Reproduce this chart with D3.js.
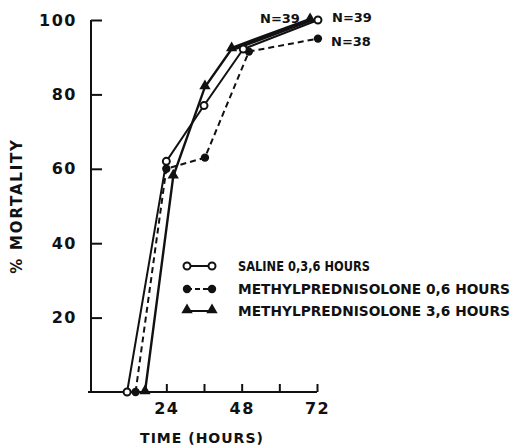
<!DOCTYPE html>
<html>
<head>
<meta charset="utf-8">
<script src="https://cdn.jsdelivr.net/npm/d3@7"></script>
<style>
  body { margin: 0; background: #fff; }
  svg { display: block; }
  text { font-family: "DejaVu Sans", sans-serif; font-weight: bold; fill: #111; }
</style>
</head>
<body>
<svg id="chart" width="524" height="446"></svg>
<script>
// values (hours, % mortality)
var salineHours = [11.5, 24, 36, 48.5, 72.3];
var salineMort = [0, 62, 77, 92.2, 100];
var mp06Hours = [14.2, 24, 36.3, 50.3, 72.3];
var mp06Mort = [0, 60, 63, 91.5, 95];
var mp36Hours = [17.2, 26.2, 36.3, 44.8, 69.8];
var mp36Mort = [0, 58, 82, 92.2, 100];

var xTicks = [24, 36, 48, 60, 72];
var xTickLabels = ['24', '', '48', '', '72'];
var yTicks = [20, 40, 60, 80, 100];

var legendLabels = [
  'SALINE 0,3,6 HOURS',
  'METHYLPREDNISOLONE 0,6 HOURS',
  'METHYLPREDNISOLONE 3,6 HOURS'
];
var nLabels = ['N=39', 'N=39', 'N=38'];

var svg = d3.select('#chart');

var x = d3.scaleLinear().domain([0, 72]).range([91, 317]);
var y = d3.scaleLinear().domain([0, 100]).range([392, 20]);

function zip(hs, ms) {
  return hs.map(function(h, i) { return {h: h, m: ms[i]}; });
}

var series = [
  {key: 'saline', data: zip(salineHours, salineMort), dash: null, width: 2, marker: 'open'},
  {key: 'mp06', data: zip(mp06Hours, mp06Mort), dash: '6,4', width: 2, marker: 'filled'},
  {key: 'mp36', data: zip(mp36Hours, mp36Mort), dash: null, width: 2.4, marker: 'tri'}
];

// axes
var yAxis = d3.axisLeft(y)
  .tickValues(yTicks)
  .tickSizeInner(-11)
  .tickSizeOuter(0)
  .tickPadding(14);

var xAxis = d3.axisBottom(x)
  .tickValues(xTicks)
  .tickFormat(function(d, i) { return xTickLabels[i]; })
  .tickSizeInner(-8)
  .tickSizeOuter(0)
  .tickPadding(11);

var gy = svg.append('g').attr('transform', 'translate(' + x(0) + ',0)').call(yAxis);
var gx = svg.append('g').attr('transform', 'translate(0,' + y(0) + ')').call(xAxis);

[gx, gy].forEach(function(g) {
  g.selectAll('path, line').attr('stroke', '#111').attr('stroke-width', 2);
  g.selectAll('text')
    .attr('font-size', 16)
    .attr('letter-spacing', 1.5)
    .attr('font-family', '"DejaVu Sans", sans-serif')
    .attr('font-weight', 'bold')
    .attr('fill', '#111');
});
gx.select('.domain').attr('d', 'M' + (x(0) - 3) + ',0H' + x(72));
gy.select('.domain').attr('d', 'M0,' + (y(0) + 1) + 'V' + y(100));

// lines
var line = d3.line().x(function(d) { return x(d.h); }).y(function(d) { return y(d.m); });

series.forEach(function(s) {
  svg.append('path')
    .datum(s.data)
    .attr('d', line)
    .attr('fill', 'none')
    .attr('stroke', '#111')
    .attr('stroke-width', s.width)
    .attr('stroke-dasharray', s.dash);
});
// heavier segment between the last two triangle points
svg.append('path')
  .datum(series[2].data.slice(3))
  .attr('d', line)
  .attr('fill', 'none')
  .attr('stroke', '#111')
  .attr('stroke-width', 4.5);

var triangle = d3.symbol().type(d3.symbolTriangle).size(55);

function drawMarker(g, kind, cx, cy) {
  if (kind === 'open') {
    g.append('circle').attr('cx', cx).attr('cy', cy).attr('r', 3.5)
      .attr('fill', '#fff').attr('stroke', '#111').attr('stroke-width', 2);
  } else if (kind === 'filled') {
    g.append('circle').attr('cx', cx).attr('cy', cy).attr('r', 4.2).attr('fill', '#111');
  } else {
    g.append('path').attr('d', triangle)
      .attr('transform', 'translate(' + cx + ',' + (cy - 1) + ')')
      .attr('fill', '#111');
  }
}

var marks = svg.append('g');
[series[2], series[1], series[0]].forEach(function(s) {
  s.data.forEach(function(d) {
    drawMarker(marks, s.marker, x(d.h), y(d.m));
  });
});

// N labels
var nPos = [[260, 23], [332, 22], [331, 46]];
svg.selectAll('.nlab')
  .data(nLabels)
  .enter().append('text')
  .attr('class', 'nlab')
  .attr('x', function(d, i) { return nPos[i][0]; })
  .attr('y', function(d, i) { return nPos[i][1]; })
  .attr('font-size', 13)
  .text(function(d) { return d; });

// legend
var legend = svg.append('g');
var legendY = [266, 289, 311];
series.forEach(function(s, i) {
  var ly = legendY[i];
  legend.append('line')
    .attr('x1', 187).attr('x2', 212).attr('y1', ly).attr('y2', ly)
    .attr('stroke', '#111').attr('stroke-width', 2)
    .attr('stroke-dasharray', s.dash ? '5,3' : null);
  drawMarker(legend, s.marker, 187, ly);
  drawMarker(legend, s.marker, 212, ly);
  legend.append('text')
    .attr('x', 238)
    .attr('y', ly + 5)
    .attr('font-size', 13.5)
    .attr('textLength', [132, 272, 272][i])
    .attr('lengthAdjust', 'spacingAndGlyphs')
    .text(legendLabels[i]);
});

// axis titles
svg.append('text')
  .attr('x', 202)
  .attr('y', 443)
  .attr('text-anchor', 'middle')
  .attr('font-size', 14)
  .attr('letter-spacing', 1)
  .text('TIME (HOURS)');

svg.append('text')
  .attr('transform', 'translate(22,206) rotate(-90)')
  .attr('text-anchor', 'middle')
  .attr('font-size', 15)
  .attr('letter-spacing', 1.8)
  .text('% MORTALITY');
</script>
</body>
</html>
